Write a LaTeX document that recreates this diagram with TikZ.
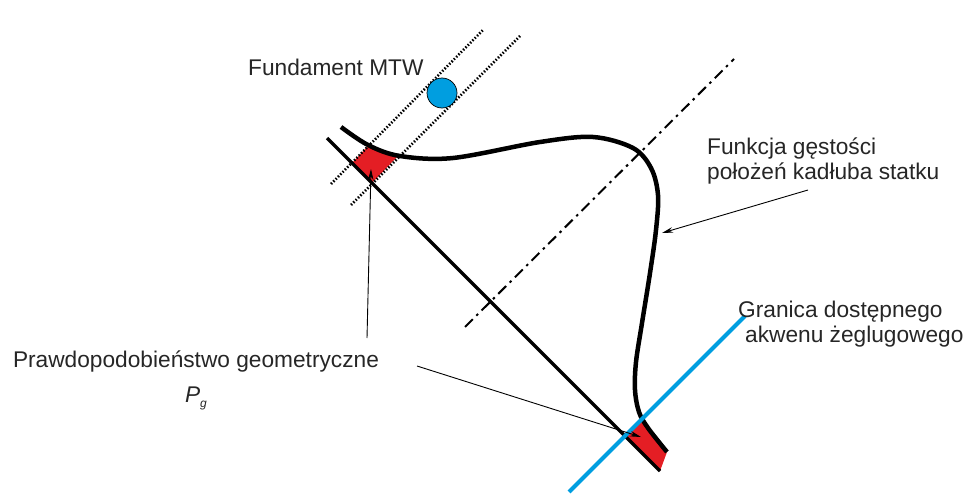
\documentclass[tikz,border=0pt]{standalone}
\usepackage{fontspec}
\usepackage{graphicx}
\setmainfont{Liberation Sans}
\usetikzlibrary{arrows.meta}
\definecolor{seablue}{RGB}{0,158,224}
\definecolor{hitred}{RGB}{228,30,36}
\tikzset{
  lbl/.style={inner sep=0pt, font=\fontsize{22.7pt}{25pt}\selectfont, text=black!85},
  pointer/.style={line width=0.9pt, -{Stealth[length=11pt,width=5.5pt]}},
  thickline/.style={line width=3.3pt},
  densline/.style={line width=4.5pt},
  dotline/.style={line width=2.6pt, dash pattern=on 1.5pt off 1.8pt},
  dashdotline/.style={line width=2pt, dash pattern=on 11pt off 5pt on 2.5pt off 5pt},
  redzone/.style={fill=hitred, draw=none}
}
\begin{document}
\begin{tikzpicture}[x=1pt,y=-1pt]
\useasboundingbox (0,0) rectangle (968,495);
% red zones
\fill[redzone] (352,163) -- (368,146) -- (383,152) -- (397,157) -- (372,183) -- cycle;
\fill[redzone] (625,436) -- (643,421) -- (648,428) -- (658,440) -- (667,452) -- (660,471) -- cycle;
% dotted corridor
\coordinate (d1a) at (331,184); \coordinate (d1b) at (484,29);
\coordinate (d2a) at (351,205); \coordinate (d2b) at (521,35);
\draw[dotline] (d1a) -- (d1b);
\draw[dotline] (d2a) -- (d2b);
% dash-dot axis
\coordinate (ax1) at (465,327); \coordinate (ax2) at (734,59);
\draw[dashdotline] (ax1) -- (ax2);
% MTW foundation
\node[circle, fill=seablue, draw=black, line width=0.7pt, minimum size=30pt, inner sep=0pt] (mtw) at (442,93) {};
% diagonal ship line
\coordinate (s1) at (327,138); \coordinate (s2) at (660,471);
\draw[thickline] (s1) -- (s2);
% density curve
\draw[densline] plot[smooth, tension=0.55] coordinates {(341,127) (368,145) (400,156) (453,158) (540,142) (593,137) (633,148) (651,168) (658,195) (656,230) (650,273) (642,323) (636,362) (635,390) (639,412) (648,428) (667,452)};
% boundary line
\coordinate (b1) at (569,492); \coordinate (b2) at (745,316);
\draw[seablue, line width=4pt] (b1) -- (b2);
% labels
\node[lbl, anchor=base west] (fund) at (248,75) {Fundament MTW};
\node[lbl, anchor=north west, align=left] (funk) at (707,138) {Funkcja gęstości\\położeń kadłuba statku};
\node[lbl, anchor=north west, align=left] (gran) at (738,301) {Granica dostępnego\\\hspace{7pt}akwenu żeglugowego};
\node[lbl, anchor=north, align=center] (prob) at (196,351) {Prawdopodobieństwo geometryczne\\[10pt]\textit{P}\raisebox{-5pt}{\fontsize{12pt}{12pt}\selectfont\textit{g}}};
% pointers
\coordinate (p1s) at (367,338); \coordinate (p1e) at (371,169);
\coordinate (p2s) at (417,366); \coordinate (p2e) at (641,437);
\coordinate (p3s) at (808,190); \coordinate (p3e) at (662,233);
\draw[pointer] (p1s) -- (p1e);
\draw[pointer] (p2s) -- (p2e);
\draw[pointer] (p3s) -- (p3e);
\end{tikzpicture}
\end{document}
